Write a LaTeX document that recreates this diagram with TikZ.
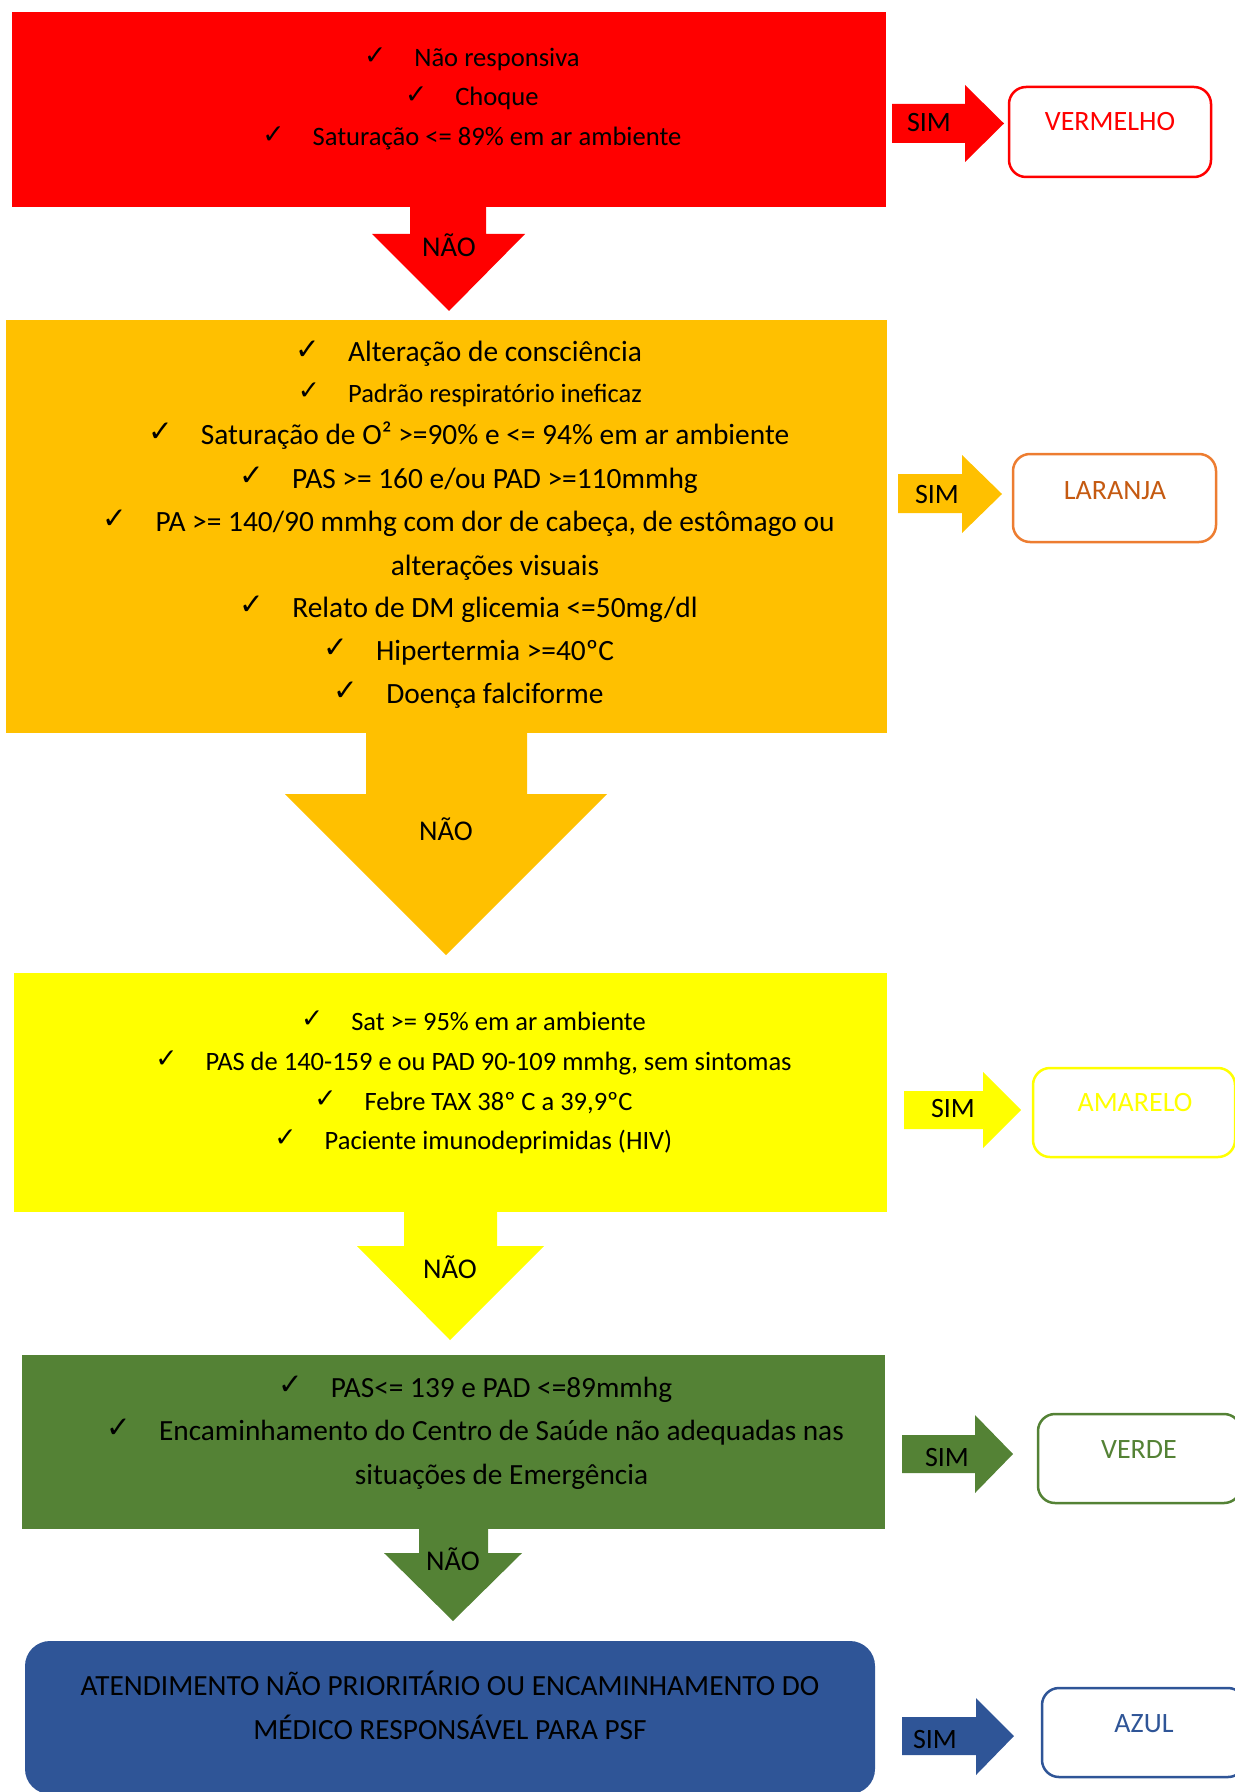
\documentclass[tikz,border=0pt]{standalone}
\usepackage{fontspec}
\setmainfont{Carlito}
\newfontfamily\symfont{DejaVu Sans}
\definecolor{cred}{HTML}{FF0000}
\definecolor{corange}{HTML}{FFC000}
\definecolor{cyellow}{HTML}{FFFF00}
\definecolor{cgreen}{HTML}{548235}
\definecolor{cblue}{HTML}{2F5597}
\definecolor{oline}{HTML}{ED7D31}
\definecolor{otext}{HTML}{C55A11}
% font size in pt
\newcommand\fs[1]{\fontsize{#1pt}{#1pt}\selectfont}
% check mark hung to the left of a centred line
\newcommand\ck{\llap{\raisebox{1.2pt}{\symfont ✓}\hspace{14pt}}}
\begin{document}
\begin{tikzpicture}[x=0.5pt,y=-0.5pt,
  panel/.style={inner sep=0pt, draw=none, outer sep=0pt},
  txt/.style={anchor=base, inner sep=0pt, text=black},
  outbox/.style={draw, fill=white, line width=1.25pt, rounded corners=8.5pt, inner sep=0pt},
  lab/.style={anchor=base, inner sep=0pt, font=\fs{14}},
  sim/.style={anchor=base, inner sep=0pt, font=\fs{14}, text=black},
  nao/.style={anchor=base, inner sep=0pt, font=\fs{14.3}, text=black}]
\useasboundingbox (0,0) rectangle (1235,1792);

% ---------- coloured panels ----------
\node[panel, fill=cred, minimum width=437pt, minimum height=97.5pt] (redbox) at (449,109.5) {};
\node[panel, fill=corange, minimum width=440.5pt, minimum height=206.5pt] (orangebox) at (446.5,526.5) {};
\node[panel, fill=cyellow, minimum width=436.5pt, minimum height=119.5pt] (yellowbox) at (450.5,1092.5) {};
\node[panel, fill=cgreen, minimum width=431.5pt, minimum height=87pt] (greenbox) at (453.5,1442) {};
\node[panel, fill=cblue, minimum width=425pt, minimum height=76.5pt, rounded corners=12.5pt] (bluebox) at (450,1717.5) {};

% ---------- downward "NÃO" block arrows ----------
\fill[cred] (410,206) -- (486,206) -- (486,234) -- (525,234) -- (449,311) -- (372,234) -- (410,234) -- cycle;
\fill[corange] (366,732) -- (527,732) -- (527,794) -- (607,794) -- (446,955) -- (285,794) -- (366,794) -- cycle;
\fill[cyellow] (404,1211) -- (497,1211) -- (497,1246) -- (544,1246) -- (450,1340) -- (357,1246) -- (404,1246) -- cycle;
\fill[cgreen] (419,1528) -- (488,1528) -- (488,1553) -- (522,1553) -- (453,1621) -- (384,1553) -- (419,1553) -- cycle;

\node[nao] (nao1) at (449,257) {NÃO};
\node[nao] (nao2) at (446,840) {NÃO};
\node[nao] (nao3) at (450,1278) {NÃO};
\node[nao] (nao4) at (453,1570) {NÃO};

% ---------- rightward "SIM" block arrows ----------
\fill[cred] (892,104) -- (965,104) -- (965,85) -- (1004,123.5) -- (965,162) -- (965,143) -- (892,143) -- cycle;
\fill[corange] (898,474) -- (962,474) -- (962,455) -- (1002,494) -- (962,533) -- (962,513) -- (898,513) -- cycle;
\fill[cyellow] (904,1091) -- (983,1091) -- (983,1072) -- (1021,1110) -- (983,1148) -- (983,1129) -- (904,1129) -- cycle;
\fill[cgreen] (902,1435) -- (975,1435) -- (975,1415) -- (1013,1454) -- (975,1493) -- (975,1473) -- (902,1473) -- cycle;
\fill[cblue] (902,1717) -- (976,1717) -- (976,1698) -- (1014,1736) -- (976,1775) -- (976,1755) -- (902,1755) -- cycle;

\node[sim] (sim1) at (929,132) {SIM};
\node[sim] (sim2) at (937,503) {SIM};
\node[sim] (sim3) at (953,1117) {SIM};
\node[sim] (sim4) at (947,1466) {SIM};
\node[sim] (sim5) at (935,1748) {SIM};

% ---------- outcome boxes ----------
\node[outbox, draw=cred, minimum width=101pt, minimum height=45pt] (vermelho) at (1110,132) {};
\node[outbox, draw=oline, minimum width=101.5pt, minimum height=44pt] (laranja) at (1114.5,498) {};
\node[outbox, draw=cyellow, minimum width=101pt, minimum height=44.5pt] (amarelo) at (1134,1112.5) {};
\node[outbox, draw=cgreen, minimum width=101.5pt, minimum height=44.5pt] (verde) at (1139.5,1458.5) {};
\node[outbox, draw=cblue, minimum width=101.5pt, minimum height=44.5pt] (azul) at (1143.5,1732.5) {};

\node[lab, text=cred] (tvermelho) at (1110,131) {VERMELHO};
\node[lab, text=otext] (tlaranja) at (1115,499) {LARANJA};
\node[lab, text=cyellow] (tamarelo) at (1135,1111) {AMARELO};
\node[lab, text=cgreen] (tverde) at (1139,1458) {VERDE};
\node[lab, text=cblue] (tazul) at (1144,1732) {AZUL};

% ---------- red panel text ----------
\begin{scope}[every node/.style={txt, font=\fs{13.3}}]
\node (r1) at (497,67) {\ck Não responsiva};
\node (r2) at (497,106) {\ck Choque};
\node (r3) at (497,146) {\ck Saturação <= 89\% em ar ambiente};
\end{scope}

% ---------- orange panel text ----------
\begin{scope}[every node/.style={txt, font=\fs{14.7}}]
\node (o1) at (495,362) {\ck Alteração de consciência};
\node[font=\fs{13.25}] (o2) at (495,402) {\ck Padrão respiratório ineficaz};
\node (o3) at (495,444) {\ck Saturação de O² >=90\% e <= 94\% em ar ambiente};
\node (o4) at (495,488) {\ck PAS >= 160 e/ou PAD >=110mmhg};
\node (o5) at (495,531) {\ck PA >= 140/90 mmhg com dor de cabeça, de estômago ou};
\node (o6) at (495,575) {alterações visuais};
\node (o7) at (495,617) {\ck Relato de DM glicemia <=50mg/dl};
\node (o8) at (495,660) {\ck Hipertermia >=40ºC};
\node (o9) at (495,703) {\ck Doença falciforme};
\end{scope}

% ---------- yellow panel text ----------
\begin{scope}[every node/.style={txt, font=\fs{13.25}}]
\node (y1) at (498.5,1030) {\ck Sat >= 95\% em ar ambiente};
\node (y2) at (498.5,1070) {\ck PAS de 140-159 e ou PAD 90-109 mmhg, sem sintomas};
\node (y3) at (498.5,1110) {\ck Febre TAX 38º C a 39,9ºC};
\node (y4) at (498.5,1149) {\ck Paciente imunodeprimidas (HIV)};
\end{scope}

% ---------- green panel text ----------
\begin{scope}[every node/.style={txt, font=\fs{14.65}}]
\node (g1) at (501.5,1397) {\ck PAS<= 139 e PAD <=89mmhg};
\node (g2) at (501.5,1440) {\ck Encaminhamento do Centro de Saúde não adequadas nas};
\node (g3) at (501.5,1484) {situações de Emergência};
\end{scope}

% ---------- blue panel text ----------
\begin{scope}[every node/.style={txt, font=\fs{14.65}}]
\node (b1) at (450,1695) {ATENDIMENTO NÃO PRIORITÁRIO OU ENCAMINHAMENTO DO};
\node (b2) at (450,1739) {MÉDICO RESPONSÁVEL PARA PSF};
\end{scope}
\end{tikzpicture}
\end{document}
